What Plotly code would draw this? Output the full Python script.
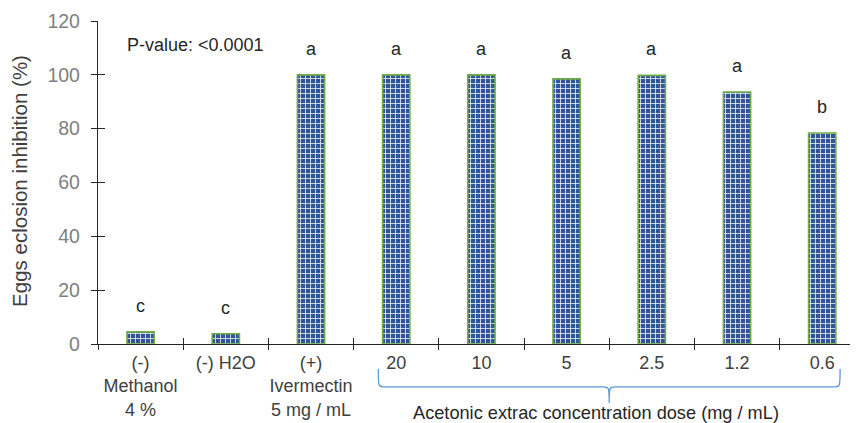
import plotly.graph_objects as go

categories = ["(-)<br>Methanol<br>4 %", "(-) H2O", "(+)<br>Ivermectin<br>5 mg / mL",
              "20", "10", "5", "2.5", "1.2", "0.6"]
inhibition = [4.5, 3.8, 100, 100, 100, 98.5, 99.8, 93.6, 78.4]
letters = ["c", "c", "a", "a", "a", "a", "a", "a", "b"]
y_ticks = [0, 20, 40, 60, 80, 100, 120]

FONT = "Liberation Sans, Arial, sans-serif"
XMAX = 8.42

fig = go.Figure()
fig.add_trace(go.Bar(
    x=list(range(len(categories))), y=inhibition, width=0.32,
    marker=dict(
        color="#2F5597",
        line=dict(color="#70AD47", width=1.6),
        pattern=dict(shape="+", fgcolor="white", bgcolor="#2F5597", size=5, solidity=0.3, fgopacity=0.9),
    ),
    hoverinfo="skip",
))
# invisible trace for overlay tick axes
fig.add_trace(go.Scatter(x=[0], y=[0], xaxis="x2", yaxis="y2", mode="markers",
                         marker=dict(opacity=0), showlegend=False, hoverinfo="skip"))

for i, (v, lab) in enumerate(zip(inhibition, letters)):
    fig.add_annotation(x=i, y=v, text=lab, showarrow=False, yanchor="middle", yshift=26,
                       font=dict(family=FONT, size=18, color="#262626"))

fig.add_annotation(xref="paper", yref="paper", x=0.0355, y=0.927, xanchor="left", yanchor="middle",
                   text="P-value: <0.0001", showarrow=False,
                   font=dict(family=FONT, size=18, color="#262626"))

fig.add_annotation(xref="paper", yref="paper", x=0, y=0.505, xshift=-78, xanchor="center",
                   yanchor="middle", textangle=-90, borderpad=0,
                   text="Eggs eclosion inhibition (%)", showarrow=False,
                   font=dict(family=FONT, size=20.5, color="#404040"))

# brace under extract doses
x0, x1, xm = 2.79, 8.21, 5.5
ya, yb, yc = -0.0775, -0.133, -0.183
path = (f"M {x0},{ya} C {x0},{yb} {x0},{yb} {x0+0.08},{yb} "
        f"L {xm-0.08},{yb} C {xm},{yb} {xm},{yb} {xm},{yc} "
        f"C {xm},{yb} {xm},{yb} {xm+0.08},{yb} "
        f"L {x1-0.08},{yb} C {x1},{yb} {x1},{yb} {x1},{ya}")
fig.add_shape(type="path", path=path, xref="x2", yref="paper",
              line=dict(color="#5B9BD5", width=1.3))
fig.add_annotation(xref="x2", yref="paper", x=5.35, y=-0.214, yanchor="middle",
                   text="Acetonic extrac concentration dose (mg / mL)", showarrow=False,
                   font=dict(family=FONT, size=18.2, color="#262626"))

fig.update_layout(
    width=850, height=416,
    margin=dict(l=90, r=0, t=13, b=80, autoexpand=False),
    paper_bgcolor="white", plot_bgcolor="white",
    showlegend=False,
    xaxis=dict(range=[-0.5, XMAX], showgrid=False, showline=True, zeroline=False,
               linecolor="#262626", linewidth=1.3, ticks="outside",
               tickvals=[i - 0.5 for i in range(len(categories))],
               ticklen=5, tickcolor="#262626", tickwidth=1.3, showticklabels=False,
               automargin=False),
    xaxis2=dict(overlaying="x", range=[-0.5, XMAX], showgrid=False, showline=False,
                zeroline=False, ticks="inside", ticklen=6, tickcolor="#262626", tickwidth=1.3,
                tickvals=[i - 0.5 for i in range(len(categories))], showticklabels=False,
                anchor="y", side="bottom", automargin=False),
    xaxis3=dict(overlaying="x", range=[-0.5, XMAX], showgrid=False, showline=False,
                zeroline=False, ticks="", tickangle=0, ticklabelstandoff=6,
                tickvals=list(range(len(categories))), ticktext=categories,
                tickfont=dict(family=FONT, size=18, color="#404040"),
                anchor="y", side="bottom", automargin=False),
    yaxis=dict(range=[0, 120], tickvals=y_ticks, showgrid=False, showline=True, zeroline=False,
               linecolor="#262626", linewidth=1.3, ticks="outside", ticklen=6,
               tickcolor="#262626", tickwidth=1.3, automargin=False, ticklabelstandoff=7,
               tickfont=dict(family=FONT, size=19.5, color="#7F7F7F")),
    yaxis2=dict(overlaying="y", range=[0, 120], tickvals=y_ticks, showgrid=False,
                showline=False, zeroline=False, ticks="inside", ticklen=7,
                tickcolor="#262626", tickwidth=1.3, showticklabels=False, anchor="x",
                side="left", automargin=False),
)
fig.add_trace(go.Scatter(x=[0], y=[0], xaxis="x3", yaxis="y", mode="markers",
                         marker=dict(opacity=0), showlegend=False, hoverinfo="skip"))

fig.write_html("out.html")
